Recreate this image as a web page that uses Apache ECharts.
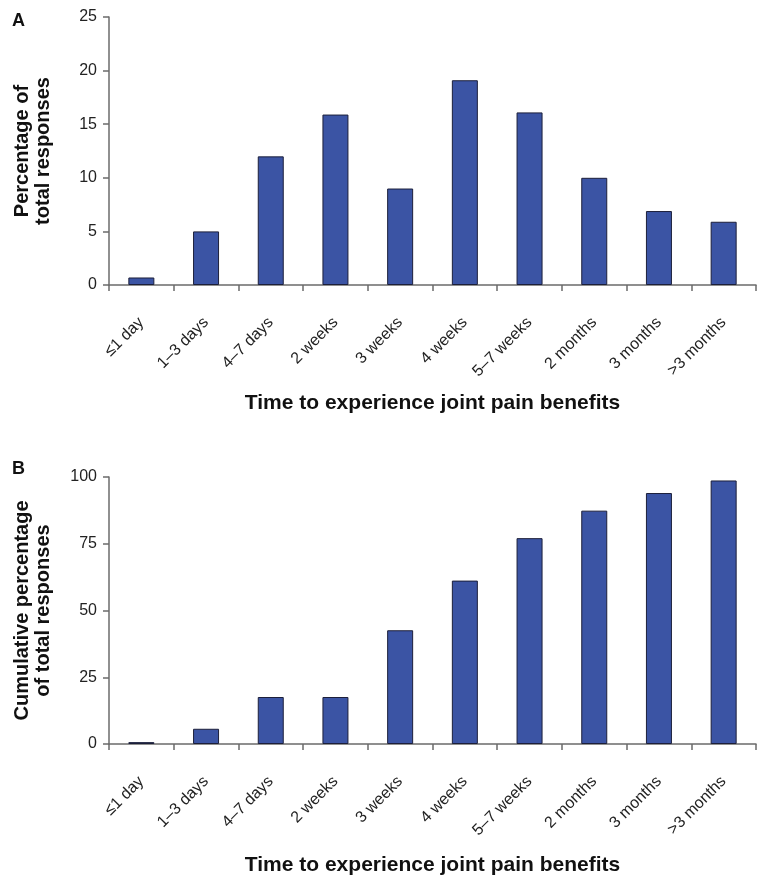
<!DOCTYPE html>
<html>
<head>
<meta charset="utf-8">
<script src="https://cdn.jsdelivr.net/npm/echarts@6/dist/echarts.min.js"></script>
<style>
  html, body { margin: 0; padding: 0; background: #fff; }
  #chart { width: 766px; height: 885px; }
</style>
</head>
<body>
<div id="chart"></div>
<script>
const categories = ['≤1 day', '1–3 days', '4–7 days', '2 weeks', '3 weeks', '4 weeks', '5–7 weeks', '2 months', '3 months', '>3 months'];
const percentValues = [0.7, 5.0, 12.0, 15.9, 9.0, 19.1, 16.1, 10.0, 6.9, 5.9];
const cumulativeValues = [0.7, 5.7, 17.6, 17.6, 42.6, 61.2, 77.1, 87.4, 94.0, 98.7];
const xTitle = 'Time to experience joint pain benefits';

const font = 'Liberation Sans, Arial, sans-serif';
const axisGrey = '#6b6b6b';
const barColor = '#3b54a4';

function xAxisFor(gridIndex, gap) {
  return {
    type: 'category',
    gridIndex: gridIndex,
    data: categories,
    name: xTitle,
    nameLocation: 'middle',
    nameGap: gap,
    nameTextStyle: { fontFamily: font, fontSize: 21, fontWeight: 'bold', color: '#111' },
    axisLine: { lineStyle: { color: axisGrey, width: 1.5 } },
    axisTick: { show: true, alignWithLabel: false, length: 6, lineStyle: { color: axisGrey, width: 1.5 } },
    axisLabel: { rotate: 45, margin: 35, fontFamily: font, fontSize: 16, color: '#222', interval: 0 }
  };
}

function yAxisFor(gridIndex, max, interval, name) {
  return {
    type: 'value',
    gridIndex: gridIndex,
    min: 0,
    max: max,
    interval: interval,
    name: name,
    nameLocation: 'middle',
    nameGap: 55,
    nameTextStyle: { fontFamily: font, fontSize: 20, fontWeight: 'bold', color: '#111', lineHeight: 21 },
    splitLine: { show: false },
    axisLine: { show: true, lineStyle: { color: axisGrey, width: 1.5 } },
    axisTick: { show: true, length: 6, lineStyle: { color: axisGrey, width: 1.5 } },
    axisLabel: { margin: 12, fontFamily: font, fontSize: 16, color: '#222' }
  };
}

function barSeries(index, values) {
  return {
    type: 'bar',
    xAxisIndex: index,
    yAxisIndex: index,
    data: values,
    barWidth: 26,
    itemStyle: { color: barColor, borderColor: '#1c1f3a', borderWidth: 1 }
  };
}

const chart = echarts.init(document.getElementById('chart'), null, { renderer: 'canvas' });

chart.setOption({
  backgroundColor: '#ffffff',
  animation: false,
  title: [
    { text: 'A', left: 7, top: 7, textStyle: { fontFamily: font, fontSize: 18, fontWeight: 'bold', color: '#111' } },
    { text: 'B', left: 7, top: 455, textStyle: { fontFamily: font, fontSize: 18, fontWeight: 'bold', color: '#111' } }
  ],
  grid: [
    { left: 109, right: 10, top: 17, height: 268 },
    { left: 109, right: 10, top: 477, height: 267 }
  ],
  xAxis: [xAxisFor(0, 108), xAxisFor(1, 111)],
  yAxis: [
    yAxisFor(0, 25, 5, 'Percentage of\ntotal responses'),
    yAxisFor(1, 100, 25, 'Cumulative percentage\nof total responses')
  ],
  series: [barSeries(0, percentValues), barSeries(1, cumulativeValues)]
});
</script>
</body>
</html>
